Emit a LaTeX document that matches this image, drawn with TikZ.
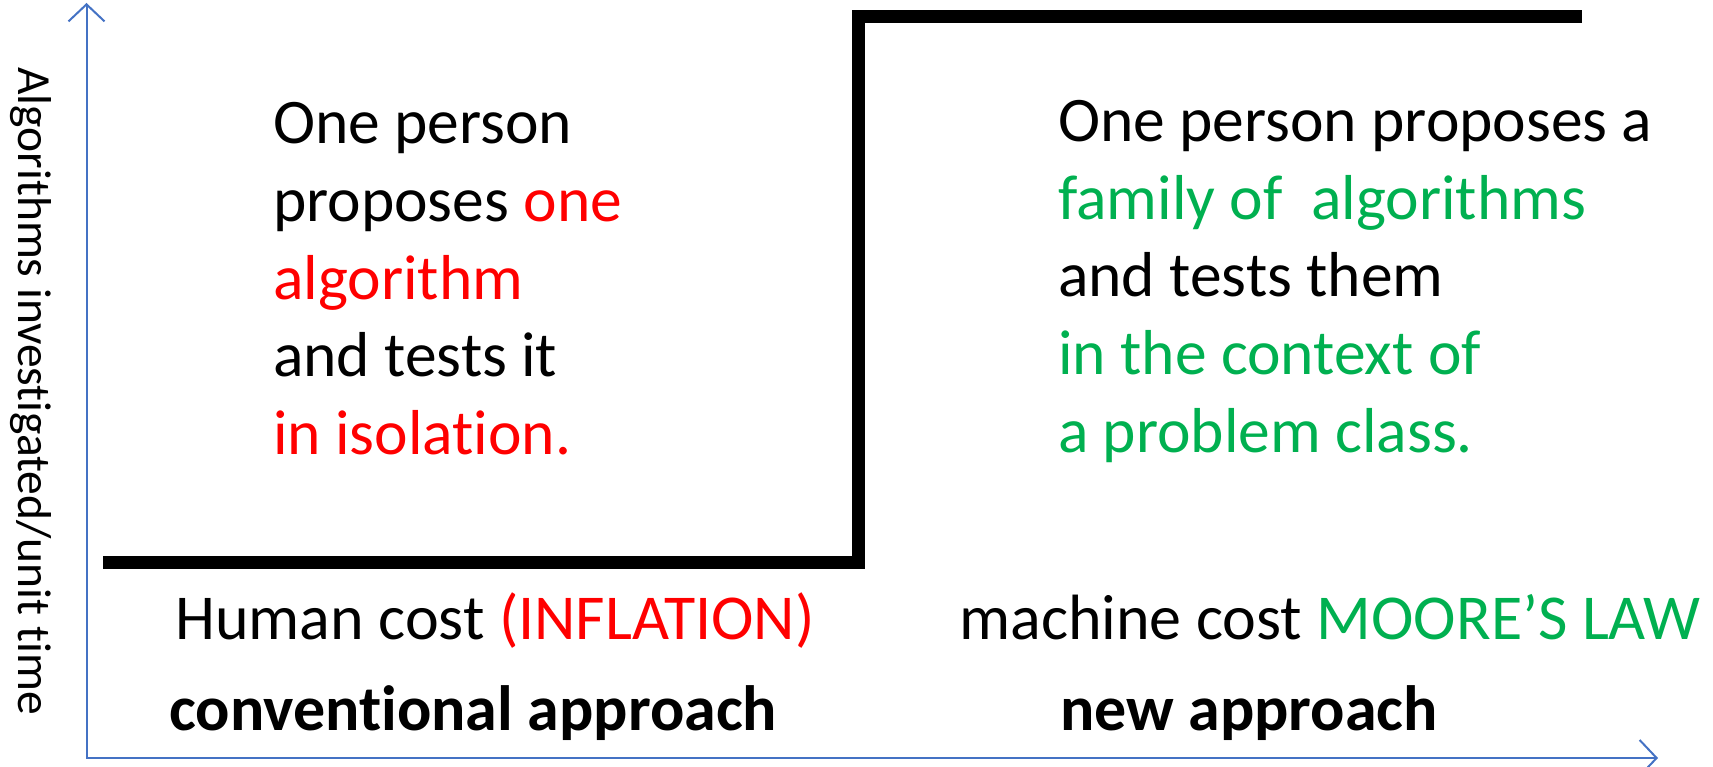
\documentclass[tikz,border=0pt]{standalone}
\usepackage{fontspec}
\setmainfont{Carlito}[Ligatures=NoCommon]
\usetikzlibrary{arrows.meta}
\definecolor{axisblue}{HTML}{4472C4}
\definecolor{pgreen}{HTML}{00B050}
\definecolor{pred}{HTML}{FF0000}
\tikzset{
  txt/.style={anchor=base west, inner sep=0pt, font=\fontsize{63.5}{77}\selectfont},
  lbl/.style={anchor=base west, inner sep=0pt, font=\fontsize{64}{75}\selectfont},
  bld/.style={anchor=base west, inner sep=0pt, font=\fontsize{64}{75}\selectfont\bfseries},
  axis/.style={draw=axisblue, line width=2pt, {Straight Barb[length=17pt,width=36pt]}-{Straight Barb[length=17pt,width=36pt]}},
  stepline/.style={line width=13pt}
}
\begin{document}
\begin{tikzpicture}[x=1pt,y=-1pt]
\useasboundingbox (0,0) rectangle (1713,767);
% axes
\coordinate (ytop) at (86.5,3);
\coordinate (orig) at (86.5,758);
\coordinate (xend) at (1658,758);
\draw[axis] (ytop) -- (orig) -- (xend);
% step line
\coordinate (s0) at (103,562);
\coordinate (s1) at (858,17);
\coordinate (s2) at (1582,17);
\draw[stepline] (s0) -| (s1) -- (s2);
% y label
\node[anchor=base west, inner sep=0pt, rotate=-90, font=\fontsize{47.5}{55}\selectfont] (ylab) at (18,67) {Algorithms investigated/unit time};
% left block
\node[txt] (l1) at (273,144) {One person};
\node[txt] (l2) at (273,221.5) {proposes \textcolor{pred}{one}};
\node[txt] (l3) at (273,299) {\textcolor{pred}{algorithm}};
\node[txt] (l4) at (273,376.5) {and tests it};
\node[txt] (l5) at (273,454) {\textcolor{pred}{in isolation.}};
% right block
\node[txt] (r1) at (1058,142) {One person proposes a};
\node[txt] (r2) at (1058,219.5) {\textcolor{pgreen}{family of~~algorithms}};
\node[txt] (r3) at (1058,297) {and tests them};
\node[txt] (r4) at (1058,374.5) {\textcolor{pgreen}{in the context of}};
\node[txt] (r5) at (1058,452) {\textcolor{pgreen}{a problem class.}};
% bottom labels
\node[lbl] (hc) at (175,639) {Human cost \textcolor{pred}{(INFLATION)}};
\node[lbl] (mc) at (959,639) {machine cost \textcolor{pgreen}{MOORE’S LAW}};
\node[bld] (ca) at (169,730) {conventional approach};
\node[bld] (na) at (1060,730) {new approach};
\end{tikzpicture}
\end{document}
